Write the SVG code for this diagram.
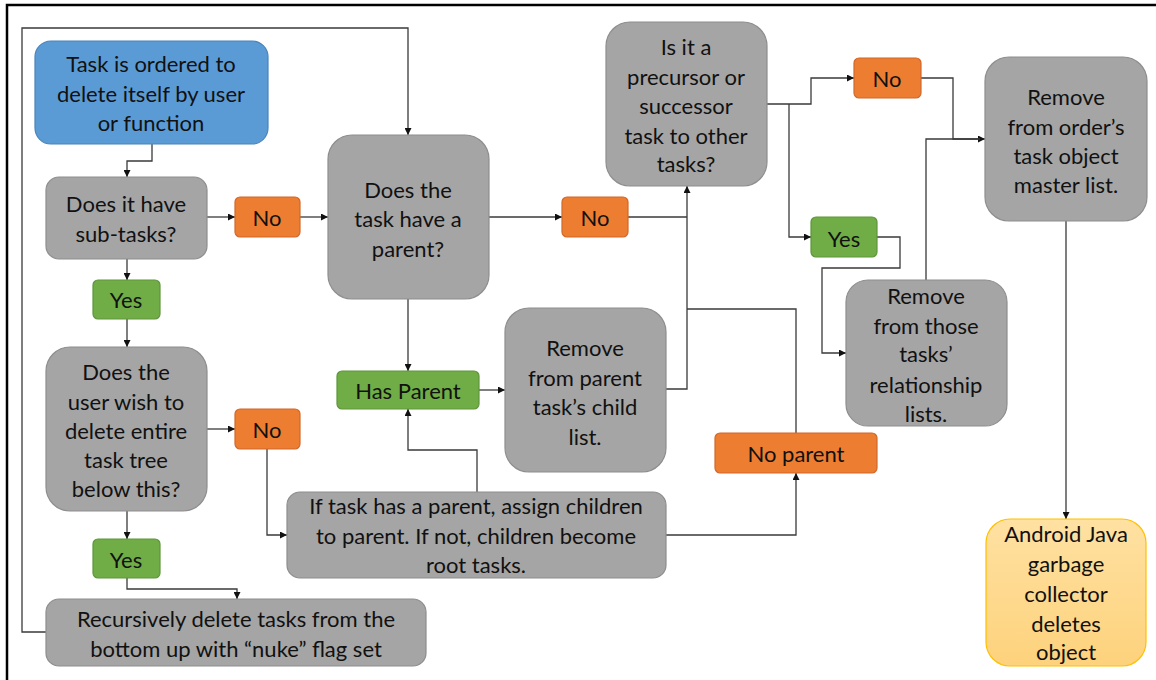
<svg xmlns="http://www.w3.org/2000/svg" width="1156" height="680" viewBox="0 0 1156 680">
  <style>
    text { font-family: Lato, "Open Sans", "Liberation Sans", sans-serif; font-size: 22px; fill: #111; text-anchor: middle; dominant-baseline: central; }
    .box { fill: #A5A5A5; stroke: #8E8E8E; stroke-width: 1.2; }
    .start { fill: #5B9BD5; stroke: #4A84BA; stroke-width: 1.2; }
    .no { fill: #ED7D31; stroke: #D0692A; stroke-width: 1.2; }
    .yes { fill: #70AD47; stroke: #5E953B; stroke-width: 1.2; }
    .end { fill: url(#endFill); stroke: #FFC000; stroke-width: 1.2; }
    .wire { fill: none; stroke: #3A3A3A; stroke-width: 1.3; }
    .arrow { marker-end: url(#head); }
  </style>
  <defs>
    <marker id="head" viewBox="0 0 10 10" refX="10" refY="5" markerWidth="7" markerHeight="7" markerUnits="userSpaceOnUse" orient="auto">
      <path d="M0,0 L10,5 L0,10 z" fill="#111"/>
    </marker>
    <linearGradient id="endFill" x1="0" y1="0" x2="0" y2="1">
      <stop offset="0" stop-color="#FFE1A2"/>
      <stop offset="1" stop-color="#FDD27C"/>
    </linearGradient>
  </defs>

  <rect width="1156" height="680" fill="#FFFFFF"/>
  <!-- page frame -->
  <rect x="7" y="5" width="1200" height="720" fill="none" stroke="#000" stroke-width="2.5"/>

  <g id="connectors">
    <path class="wire arrow" d="M152,144 V161 H127 V177"/>
    <path class="wire arrow" d="M207,217 H235"/>
    <path class="wire arrow" d="M300,217 H328"/>
    <path class="wire arrow" d="M127,259 V280"/>
    <path class="wire arrow" d="M127,319 V347"/>
    <path class="wire arrow" d="M207,429 H235"/>
    <path class="wire arrow" d="M267,449 V535 H287"/>
    <path class="wire arrow" d="M127,511 V539"/>
    <path class="wire arrow" d="M127,578 V589 H237 V599"/>
    <path class="wire arrow" d="M46,632 H22 V28 H408 V135"/>
    <path class="wire arrow" d="M489,217 H562"/>
    <path class="wire" d="M628,217 H687"/>
    <path class="wire arrow" d="M666,389 H687 V186"/>
    <path class="wire" d="M796,433 V309 H687"/>
    <path class="wire arrow" d="M666,535 H796 V473"/>
    <path class="wire arrow" d="M408,299 V371"/>
    <path class="wire arrow" d="M479,390 H505"/>
    <path class="wire arrow" d="M477,492 V450 H408 V409"/>
    <path class="wire arrow" d="M767,104 H811 V78 H854"/>
    <path class="wire arrow" d="M789,104 V237 H811"/>
    <path class="wire arrow" d="M921,78 H953 V139 H985"/>
    <path class="wire arrow" d="M877,237 H900 V268 H822 V353 H846"/>
    <path class="wire" d="M926,280 V139 H980"/>
    <path class="wire arrow" d="M1066,221 V519"/>
  </g>

  <g id="start">
    <rect class="start" x="35" y="41" width="233" height="103" rx="16"/>
    <text x="151" y="63">Task is ordered to</text>
    <text x="151" y="93">delete itself by user</text>
    <text x="151" y="122">or function</text>
  </g>

  <g id="has-subtasks">
    <rect class="box" x="46" y="177" width="161" height="82" rx="13"/>
    <text x="126" y="203">Does it have</text>
    <text x="126" y="233">sub-tasks?</text>
  </g>

  <g id="subtasks-no">
    <rect class="no" x="235" y="197" width="65" height="40" rx="5"/>
    <text x="267" y="217">No</text>
  </g>

  <g id="subtasks-yes">
    <rect class="yes" x="93" y="280" width="67" height="39" rx="5"/>
    <text x="126" y="299">Yes</text>
  </g>

  <g id="delete-tree">
    <rect class="box" x="46" y="347" width="161" height="164" rx="24"/>
    <text x="126" y="371">Does the</text>
    <text x="126" y="401">user wish to</text>
    <text x="126" y="430">delete entire</text>
    <text x="126" y="459">task tree</text>
    <text x="126" y="488">below this?</text>
  </g>

  <g id="tree-no">
    <rect class="no" x="235" y="409" width="65" height="40" rx="5"/>
    <text x="267" y="429">No</text>
  </g>

  <g id="tree-yes">
    <rect class="yes" x="93" y="539" width="67" height="39" rx="5"/>
    <text x="126" y="559">Yes</text>
  </g>

  <g id="recursive-delete">
    <rect class="box" x="46" y="599" width="380" height="67" rx="13"/>
    <text x="236" y="618">Recursively delete tasks from the</text>
    <text x="236" y="648">bottom up with “nuke” flag set</text>
  </g>

  <g id="has-parent-q">
    <rect class="box" x="328" y="135" width="161" height="164" rx="24"/>
    <text x="408" y="189">Does the</text>
    <text x="408" y="218">task have a</text>
    <text x="408" y="248">parent?</text>
  </g>

  <g id="parent-no">
    <rect class="no" x="562" y="197" width="66" height="40" rx="5"/>
    <text x="595" y="217">No</text>
  </g>

  <g id="has-parent">
    <rect class="yes" x="337" y="371" width="142" height="38" rx="5"/>
    <text x="408" y="390">Has Parent</text>
  </g>

  <g id="remove-from-parent">
    <rect class="box" x="505" y="308" width="161" height="164" rx="24"/>
    <text x="585" y="347">Remove</text>
    <text x="585" y="377">from parent</text>
    <text x="585" y="406">task’s child</text>
    <text x="585" y="436">list.</text>
  </g>

  <g id="reassign-children">
    <rect class="box" x="287" y="492" width="379" height="86" rx="13"/>
    <text x="476" y="505">If task has a parent, assign children</text>
    <text x="476" y="535">to parent. If not, children become</text>
    <text x="476" y="564">root tasks.</text>
  </g>

  <g id="no-parent">
    <rect class="no" x="715" y="433" width="162" height="40" rx="5"/>
    <text x="796" y="453">No parent</text>
  </g>

  <g id="precursor-q">
    <rect class="box" x="606" y="22" width="161" height="164" rx="24"/>
    <text x="686" y="46">Is it a</text>
    <text x="686" y="76">precursor or</text>
    <text x="686" y="105">successor</text>
    <text x="686" y="135">task to other</text>
    <text x="686" y="163">tasks?</text>
  </g>

  <g id="relation-no">
    <rect class="no" x="854" y="58" width="67" height="40" rx="5"/>
    <text x="887" y="78">No</text>
  </g>

  <g id="relation-yes">
    <rect class="yes" x="811" y="217" width="66" height="40" rx="5"/>
    <text x="844" y="238">Yes</text>
  </g>

  <g id="remove-relationships">
    <rect class="box" x="846" y="280" width="161" height="146" rx="22"/>
    <text x="926" y="295">Remove</text>
    <text x="926" y="325">from those</text>
    <text x="926" y="353">tasks’</text>
    <text x="926" y="384">relationship</text>
    <text x="926" y="413">lists.</text>
  </g>

  <g id="remove-master">
    <rect class="box" x="985" y="57" width="162" height="164" rx="24"/>
    <text x="1066" y="96">Remove</text>
    <text x="1066" y="126">from order’s</text>
    <text x="1066" y="155">task object</text>
    <text x="1066" y="184">master list.</text>
  </g>

  <g id="garbage-collector">
    <rect class="end" x="986" y="519" width="160" height="147" rx="24"/>
    <text x="1066" y="533">Android Java</text>
    <text x="1066" y="563">garbage</text>
    <text x="1066" y="593">collector</text>
    <text x="1066" y="623">deletes</text>
    <text x="1066" y="651">object</text>
  </g>
</svg>
